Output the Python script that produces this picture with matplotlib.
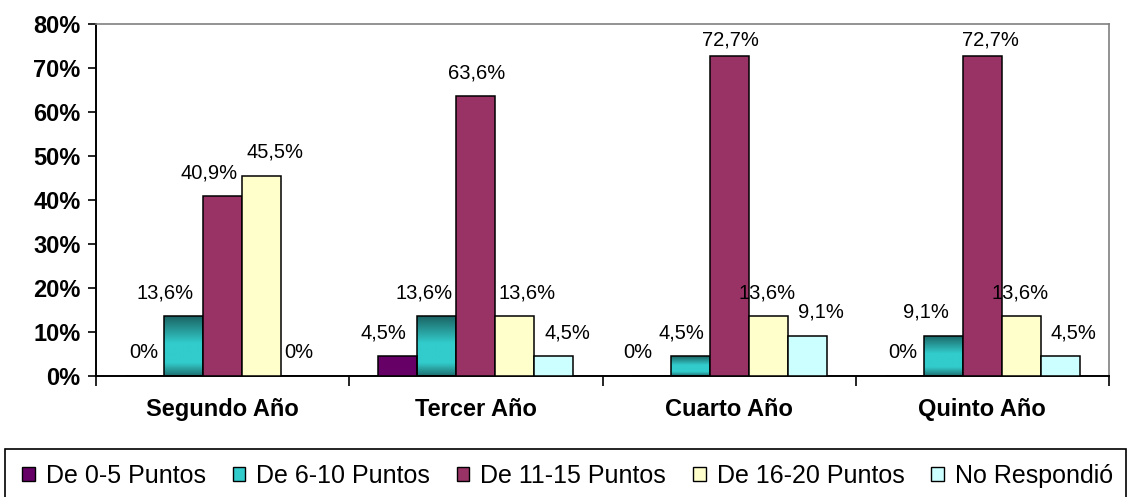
import numpy as np
import matplotlib
matplotlib.use("Agg")
import matplotlib.pyplot as plt
from matplotlib.patches import Patch, Rectangle
from matplotlib.colors import LinearSegmentedColormap

plt.rcParams["font.family"] = ["Liberation Sans", "DejaVu Sans"]

categories = ["Segundo Año", "Tercer Año", "Cuarto Año", "Quinto Año"]
series = ["De 0-5 Puntos", "De 6-10 Puntos", "De 11-15 Puntos", "De 16-20 Puntos", "No Respondió"]

pts_0_5 = [0, 4.5, 0, 0]
pts_6_10 = [13.6, 13.6, 4.5, 9.1]
pts_11_15 = [40.9, 63.6, 72.7, 72.7]
pts_16_20 = [45.5, 13.6, 13.6, 13.6]
no_resp = [0, 4.5, 9.1, 4.5]
values = [pts_0_5, pts_6_10, pts_11_15, pts_16_20, no_resp]

colors = ["#660066", "#33cccc", "#993366", "#ffffcc", "#ccffff"]

# horizontal nudges of the value labels (pixels), as placed in the original
label_dx = [[-1, -14, -13, -2],
            [-19, -13, -9, -17],
            [-14, 1, 1, 8],
            [13, 12, -1, -1],
            [-2, 14, 14, 13]]

W, H = 1128, 497
fig = plt.figure(figsize=(W / 100, H / 100), dpi=100)
ax = fig.add_axes([96 / W, 121 / H, 1013 / W, 352 / H])

x = np.arange(len(categories))
width = 0.154

teal_cmap = LinearSegmentedColormap.from_list(
    "teal", [(0, "#1b6262"), (0.45, "#33cccc"), (0.78, "#33cccc"), (1, "#1f6e6e")])
grad = np.linspace(0, 1, 256).reshape(-1, 1)

for i, (vals, col) in enumerate(zip(values, colors)):
    pos = x + (i - 2) * width
    face = "none" if i == 1 else col
    bars = ax.bar(pos, vals, width, color=face, edgecolor="black", linewidth=1.1, zorder=3)
    if i == 1:
        for b in bars:
            if b.get_height() <= 0:
                continue
            x0, y0 = b.get_x(), b.get_y()
            im = ax.imshow(grad, cmap=teal_cmap, aspect="auto", interpolation="bilinear",
                           extent=[x0, x0 + b.get_width(), y0, y0 + b.get_height()],
                           origin="upper", zorder=2)
            im.set_clip_path(b)
    for j, v in enumerate(vals):
        txt = "0%" if v == 0 else f"{v:.1f}".replace(".", ",") + "%"
        dy = 11 if v > 70 else 18
        ax.annotate(txt, (pos[j], v), xytext=(label_dx[i][j], dy),
                    textcoords="offset pixels", ha="center", va="baseline",
                    fontsize=14.5, zorder=4)

ax.set_xlim(-0.5, 3.5)
ax.set_ylim(0, 80)

ax.set_yticks(range(0, 81, 10))
ax.set_yticklabels([f"{t}%" for t in range(0, 81, 10)], fontweight="bold")
ax.tick_params(axis="y", length=6, width=1.2, pad=5, labelsize=17)

ax.set_xticks(np.arange(-0.5, 3.6, 1))
ax.set_xticklabels([])
ax.set_xticks(x, minor=True)
ax.set_xticklabels(categories, minor=True, fontweight="bold")
ax.tick_params(axis="x", which="major", length=7, width=1.2)
ax.tick_params(axis="x", which="minor", length=0, pad=16, labelsize=17)

for s in ["top", "right"]:
    ax.spines[s].set_color("#808080")
    ax.spines[s].set_linewidth(1.2)
for s in ["left", "bottom"]:
    ax.spines[s].set_color("black")
    ax.spines[s].set_linewidth(1.4)

# legend box spanning the width under the chart
fig.add_artist(Rectangle((5 / W, -0.02), (1126 - 5) / W, (H - 449) / H + 0.02,
                         transform=fig.transFigure, fill=False, edgecolor="black",
                         linewidth=1.2))
handles = [Patch(facecolor=c, edgecolor="black", linewidth=1.0) for c in colors]
fig.legend(handles, series, loc="center left", bbox_to_anchor=(22 / W, (H - 476) / H),
           ncol=5, frameon=False, fontsize=18, handlelength=0.5, handleheight=0.5,
           handletextpad=0.44, columnspacing=1.08, borderpad=0, borderaxespad=0)

fig.savefig("out.png", dpi=100)
